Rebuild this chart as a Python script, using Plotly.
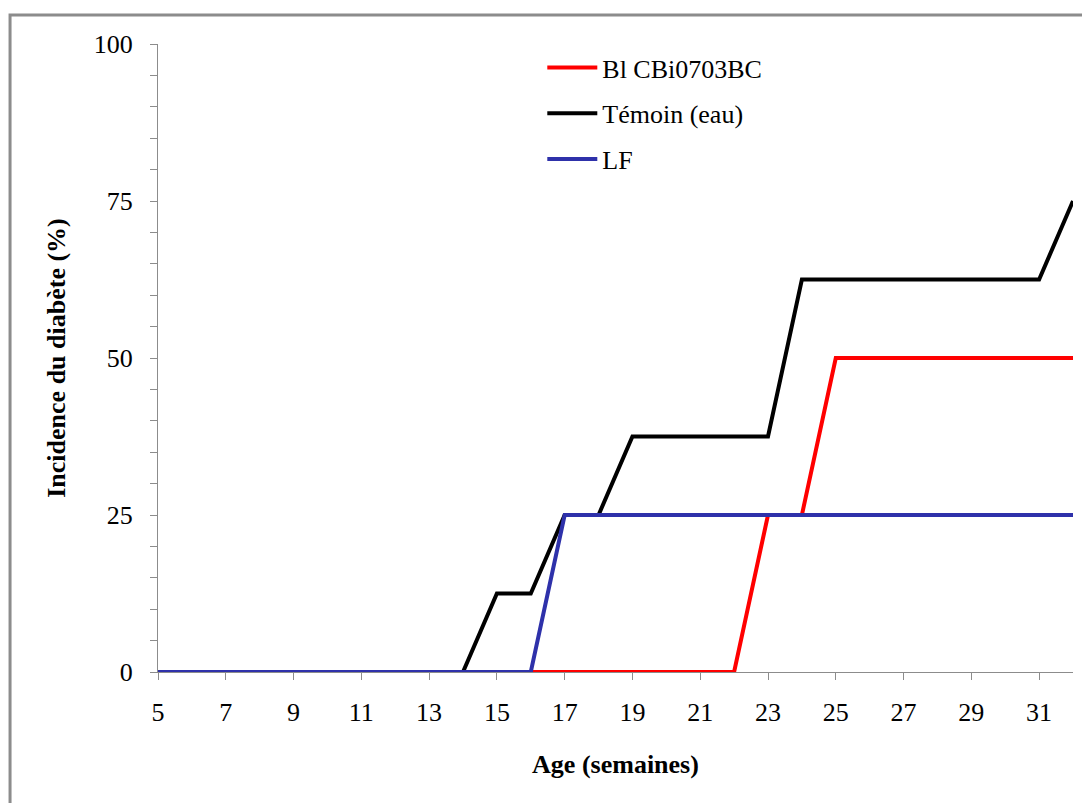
import plotly.graph_objects as go

weeks = list(range(5, 33))
temoin = [0]*10 + [12.5, 12.5, 25, 25] + [37.5]*5 + [62.5]*8 + [75]
bl_cbi = [0]*18 + [25, 25] + [50]*8
lf = [0]*12 + [25]*16

names = ["Bl CBi0703BC", "Témoin (eau)", "LF"]
colors = ["#FF0000", "#000000", "#2E31AA"]
x_ticks = list(range(5, 32, 2))
y_ticks = [0, 25, 50, 75, 100]

font_fam = "Liberation Serif"

fig = go.Figure()
# draw order: black, red, blue (blue on top)
order = [(1, temoin), (0, bl_cbi), (2, lf)]
for idx, vals in order:
    fig.add_trace(go.Scatter(
        x=weeks, y=vals, mode="lines", name=names[idx],
        line=dict(color=colors[idx], width=4),
        legendrank=idx + 1, legendgroup=names[idx],
    ))

axis_gray = "#8c8c8c"
fig.update_layout(
    width=1082, height=795,
    margin=dict(l=150, r=17, t=36, b=131),
    paper_bgcolor="white", plot_bgcolor="white",
    font=dict(family=font_fam, size=26, color="black"),
    showlegend=True,
    legend=dict(x=0.42, y=1.0, xanchor="left", yanchor="top",
                bgcolor="rgba(0,0,0,0)", tracegroupgap=9, itemwidth=50,
                font=dict(family=font_fam, size=26)),
    xaxis=dict(range=[5, 32], tickvals=x_ticks, showgrid=False, zeroline=False,
               showline=True, linecolor=axis_gray, linewidth=1,
               ticks="outside", ticklen=7, tickcolor=axis_gray,
               ticklabelstandoff=10, tickfont=dict(family=font_fam, size=26),
               title=dict(text="<b>Age (semaines)</b>", standoff=28,
                          font=dict(family=font_fam, size=26))),
    yaxis=dict(range=[0, 100], tickvals=y_ticks, showgrid=False, zeroline=False,
               showline=True, linecolor=axis_gray, linewidth=1,
               ticks="outside", ticklen=7, tickcolor=axis_gray,
               ticklabelstandoff=12, tickfont=dict(family=font_fam, size=26),
               minor=dict(dtick=5, ticks="outside", ticklen=7, tickcolor=axis_gray, showgrid=False),
               title=dict(text="<b>Incidence du diabète (%)</b>", standoff=20,
                          font=dict(family=font_fam, size=26))),
)

fig.add_shape(type="rect", xref="paper", yref="paper",
              x0=-0.1617, y0=-0.4, x1=1.1, y1=1.0462,
              line=dict(color=axis_gray, width=3), fillcolor="rgba(0,0,0,0)", layer="below")

fig.write_html("out.html")
